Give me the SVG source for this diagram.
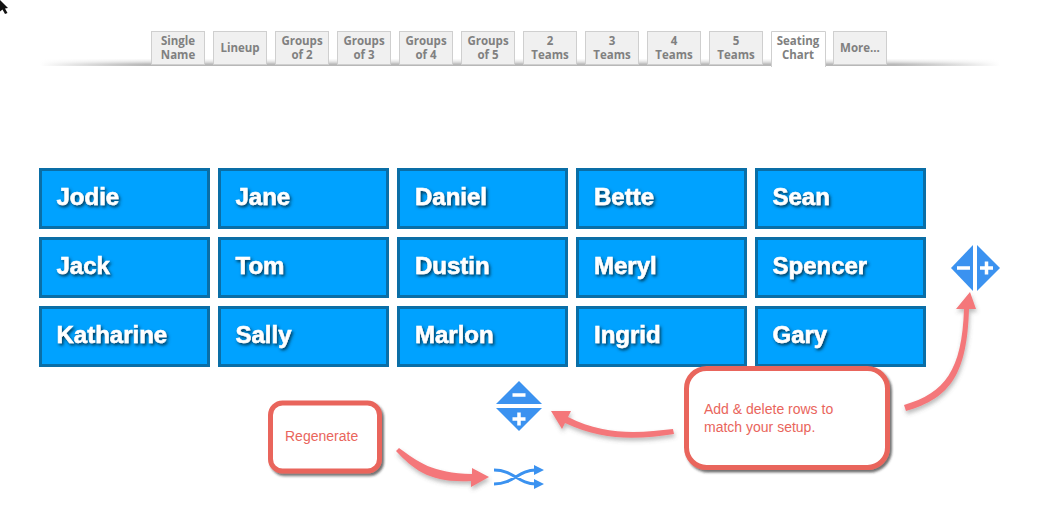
<svg xmlns="http://www.w3.org/2000/svg" width="1051" height="524" viewBox="0 0 1051 524">
<style>
.tab{fill:#f0f0f0;stroke:#cfcfcf;stroke-width:1}
.tt{font:bold 11.500px "Open Sans","Noto Sans",sans-serif;fill:#808080;text-anchor:middle}
.cell{fill:#00a2ff;stroke:#0a6ea6;stroke-width:3}
.name{font:bold 24px "Liberation Sans",Arial,sans-serif;fill:#fff;stroke:#fff;stroke-width:.5;filter:url(#ts)}
.box{fill:#fff;stroke:#e9655c;stroke-width:5;filter:url(#bs)}
.note{font:14px "Liberation Sans",Arial,sans-serif;fill:#e9655c}
.arrow{fill:#f4777a}
.ic{fill:#3b92f0}
.sym{stroke:#fff;stroke-width:3.500;fill:none}
.sh{fill:none;stroke:#3b92f0;stroke-width:3}
</style>
<defs>
<filter id="ts" x="-20%" y="-30%" width="140%" height="170%"><feDropShadow dx="1.500" dy="2" stdDeviation="1.500" flood-color="#03304d" flood-opacity=".95"/></filter>
<filter id="bs" x="-10%" y="-10%" width="125%" height="125%"><feDropShadow dx="2" dy="2.500" stdDeviation="1.200" flood-color="#222" flood-opacity=".65"/></filter>
<filter id="as" x="-20%" y="-20%" width="150%" height="150%"><feDropShadow dx="1" dy="3" stdDeviation="2.200" flood-color="#555" flood-opacity=".4"/></filter>
<linearGradient id="bar" x1="0" x2="1" y1="0" y2="0"><stop offset="0" stop-color="#aaa" stop-opacity="0"/><stop offset=".11" stop-color="#b8b8b8"/><stop offset=".89" stop-color="#b8b8b8"/><stop offset="1" stop-color="#aaa" stop-opacity="0"/></linearGradient>
</defs>
<rect width="1051" height="524" fill="#fff"/>
<path id="cursor" d="M0 0L8 8L5 8.500L7.500 13L5 14L2.500 9.500L0 11.500Z" fill="#111"/>
<g id="tabbar" fill="url(#bar)">
<rect x="40" y="64" width="960" height="2"/>
<rect x="40" y="63" width="960" height="1" opacity=".8"/>
<rect x="40" y="62" width="960" height="1" opacity=".55"/>
<rect x="40" y="61" width="960" height="1" opacity=".35"/>
<rect x="40" y="60" width="960" height="1" opacity=".2"/>
<rect x="40" y="59" width="960" height="1" opacity=".1"/>
</g>
<g id="tabs">
<g id="tab1"><rect class="tab" x="151.500" y="31.500" width="53" height="33"/><text class="tt" x="178" y="45">Single</text><text class="tt" x="178" y="59">Name</text></g>
<g id="tab2"><rect class="tab" x="213.500" y="31.500" width="53" height="33"/><text class="tt" x="240" y="52">Lineup</text></g>
<g id="tab3"><rect class="tab" x="275.500" y="31.500" width="53" height="33"/><text class="tt" x="302" y="45">Groups</text><text class="tt" x="302" y="59">of 2</text></g>
<g id="tab4"><rect class="tab" x="337.500" y="31.500" width="53" height="33"/><text class="tt" x="364" y="45">Groups</text><text class="tt" x="364" y="59">of 3</text></g>
<g id="tab5"><rect class="tab" x="399.500" y="31.500" width="53" height="33"/><text class="tt" x="426" y="45">Groups</text><text class="tt" x="426" y="59">of 4</text></g>
<g id="tab6"><rect class="tab" x="461.500" y="31.500" width="53" height="33"/><text class="tt" x="488" y="45">Groups</text><text class="tt" x="488" y="59">of 5</text></g>
<g id="tab7"><rect class="tab" x="523.500" y="31.500" width="53" height="33"/><text class="tt" x="550" y="45">2</text><text class="tt" x="550" y="59">Teams</text></g>
<g id="tab8"><rect class="tab" x="585.500" y="31.500" width="53" height="33"/><text class="tt" x="612" y="45">3</text><text class="tt" x="612" y="59">Teams</text></g>
<g id="tab9"><rect class="tab" x="647.500" y="31.500" width="53" height="33"/><text class="tt" x="674" y="45">4</text><text class="tt" x="674" y="59">Teams</text></g>
<g id="tab10"><rect class="tab" x="709.500" y="31.500" width="53" height="33"/><text class="tt" x="736" y="45">5</text><text class="tt" x="736" y="59">Teams</text></g>
<g id="tab11"><path d="M771.500 67V31.500H825.500V67" fill="#fff" stroke="#cfcfcf"/><text class="tt" x="798" y="45">Seating</text><text class="tt" x="798" y="59">Chart</text></g>
<g id="tab12"><rect class="tab" x="833.500" y="31.500" width="53" height="33"/><text class="tt" x="860" y="52">More...</text></g>
</g>
<g id="grid">
<g id="c-jodie"><rect class="cell" x="40.500" y="169.500" width="168" height="58"/><text class="name" x="56.500" y="205">Jodie</text></g>
<g id="c-jane"><rect class="cell" x="219.500" y="169.500" width="168" height="58"/><text class="name" x="235.500" y="205">Jane</text></g>
<g id="c-daniel"><rect class="cell" x="398.500" y="169.500" width="168" height="58"/><text class="name" x="415" y="205">Daniel</text></g>
<g id="c-bette"><rect class="cell" x="577.500" y="169.500" width="168" height="58"/><text class="name" x="594" y="205">Bette</text></g>
<g id="c-sean"><rect class="cell" x="756.500" y="169.500" width="168" height="58"/><text class="name" x="772.500" y="205">Sean</text></g>
<g id="c-jack"><rect class="cell" x="40.500" y="238.500" width="168" height="58"/><text class="name" x="56.500" y="274">Jack</text></g>
<g id="c-tom"><rect class="cell" x="219.500" y="238.500" width="168" height="58"/><text class="name" x="235.500" y="274">Tom</text></g>
<g id="c-dustin"><rect class="cell" x="398.500" y="238.500" width="168" height="58"/><text class="name" x="415" y="274">Dustin</text></g>
<g id="c-meryl"><rect class="cell" x="577.500" y="238.500" width="168" height="58"/><text class="name" x="594" y="274">Meryl</text></g>
<g id="c-spencer"><rect class="cell" x="756.500" y="238.500" width="168" height="58"/><text class="name" x="772.500" y="274">Spencer</text></g>
<g id="c-katharine"><rect class="cell" x="40.500" y="307.500" width="168" height="58"/><text class="name" x="56.500" y="343">Katharine</text></g>
<g id="c-sally"><rect class="cell" x="219.500" y="307.500" width="168" height="58"/><text class="name" x="235.500" y="343">Sally</text></g>
<g id="c-marlon"><rect class="cell" x="398.500" y="307.500" width="168" height="58"/><text class="name" x="415" y="343">Marlon</text></g>
<g id="c-ingrid"><rect class="cell" x="577.500" y="307.500" width="168" height="58"/><text class="name" x="594" y="343">Ingrid</text></g>
<g id="c-gary"><rect class="cell" x="756.500" y="307.500" width="168" height="58"/><text class="name" x="772.500" y="343">Gary</text></g>
</g>
<g id="icon-cols">
<path class="ic" d="M973 245V291L951 268Z"/><path class="ic" d="M977 245V291L1000 268Z"/>
<path class="sym" d="M957 268H970M980 268H993M986.500 261.500V274.500"/>
</g>
<g id="icon-rows">
<path class="ic" d="M519 381L542 404H496Z"/><path class="ic" d="M496 408H542L519 431Z"/>
<path class="sym" d="M512.500 395H525.500M512.500 419H525.500M519 412.500V425.500"/>
</g>
<g id="icon-shuffle">
<path class="sh" d="M494 470C514 470 518 484 536 484M494 484C514 484 518 470 536 470"/>
<path d="M534 465L544 470L534 475ZM534 479L544 484L534 489Z" fill="#3b92f0"/>
</g>
<g id="connectors" filter="url(#as)">
<path class="arrow" d="M399 448C418 462 432 473 472 474V468L489 477L471 487V481C430 483 414 470 396 451Z"/>
<path class="arrow" d="M673 429C640 433 605 436 568 417L571 411L551 411L562 429L565 423C605 442 640 439 674 434Z"/>
<path class="arrow" d="M904 405C945 393 962 370 964 309H956L970 292L976 309H969C967 372 952 398 906 411Z"/>
</g>
<g id="note-regenerate"><rect class="box" x="270.500" y="403" width="109" height="68" rx="12"/><text class="note" x="285" y="441">Regenerate</text></g>
<g id="note-add"><rect class="box" x="686.500" y="368.500" width="201" height="99" rx="20"/><text class="note" x="704" y="414">Add &amp; delete rows to</text><text class="note" x="704" y="432">match your setup.</text></g>
</svg>
